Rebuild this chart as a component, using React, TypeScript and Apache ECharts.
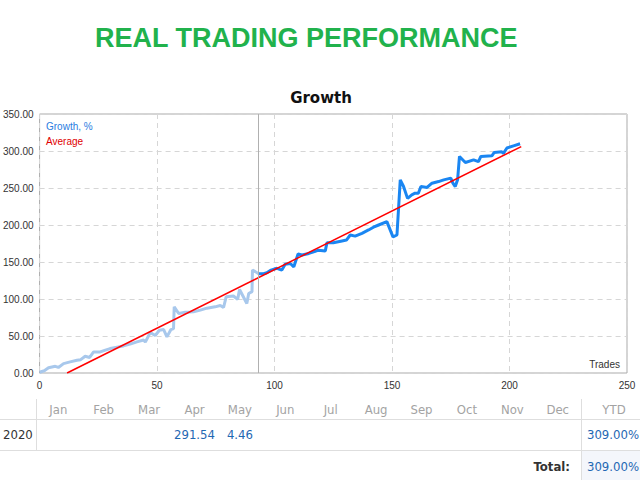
import React, { useEffect, useRef } from "react";
import * as echarts from "echarts";

const historyTrades = [0, 2, 3.8, 6.7, 8, 10.2, 13, 15.9, 17.5, 19.4, 21.3, 23, 25.8, 28, 30, 33, 35.7, 38.5, 41.4, 44.3, 45, 47.1, 49.2, 51, 52.8, 54.2, 55.9, 57, 57.3, 59.2, 62, 65.5, 68.4, 71.2, 74.7, 76.9, 78.3, 79.4, 82.5, 84.3, 85.1, 88.2, 89, 90.4, 90.6, 91.8, 93.2];
const historyGrowth = [1, 3, 7, 9, 7.5, 12.7, 15, 17.2, 18, 22.6, 21, 28.5, 28.5, 31, 33, 35, 36.6, 39, 42, 44.5, 41.7, 54.7, 50.6, 57.8, 58.7, 48.8, 58.7, 60, 89.4, 80.4, 82, 82.6, 85, 87.6, 89.4, 91.2, 88.5, 103, 104, 99.5, 112.9, 94, 107.5, 110, 139, 137, 134];

const currentTrades = [93.2, 95, 96.7, 98.5, 101, 103.1, 104.5, 106.7, 108.2, 110, 111.7, 114.6, 117, 118.7, 121.6, 122.3, 125, 128.7, 130.6, 132.2, 134.3, 137.2, 140, 142.1, 144.3, 147.8, 150.4, 152.1, 153.5, 154.9, 156.6, 158.4, 159.8, 161.2, 162.3, 164.9, 167, 169.8, 172, 175, 175.9, 176.9, 177.9, 178.7, 181.2, 184.7, 186.8, 187.8, 192.5, 193.5, 196.7, 197.4, 198.9, 201.7, 204.5];
const currentGrowth = [134, 134, 135.5, 139, 141.5, 139, 147, 148, 143.5, 160.7, 159.5, 161.6, 164, 166, 165, 176, 176, 178.4, 179.6, 186.5, 185, 188.8, 193.3, 197, 200, 204.5, 184, 186.5, 261, 252, 236, 240.8, 243, 243, 252, 250.7, 256.5, 258.7, 261, 263.3, 256.5, 252, 261, 292.6, 284.5, 288, 285.6, 292.6, 293.5, 298, 299, 296.8, 304, 307, 309.8];

const averageTrades = [11.7, 205];
const averageGrowth = [0, 306];

const signalStartTrade = 93.2;

const xTicks = { min: 0, max: 250, interval: 50 };
const yTicks = { min: 0, max: 350, interval: 50 };

const months = ["Jan", "Feb", "Mar", "Apr", "May", "Jun", "Jul", "Aug", "Sep", "Oct", "Nov", "Dec"];
const monthValues: (string | null)[] = [null, null, null, "291.54", "4.46", null, null, null, null, null, null, null];
const yearLabel = "2020";
const ytdValue = "309.00%";
const totalValue = "309.00%";

const pairs = (xs: number[], ys: number[]) => xs.map((x, i) => [x, ys[i]]);

const TABLE_FONT = "'Liberation Sans Narrow', 'DejaVu Sans Condensed', 'Liberation Sans', sans-serif";

function txt(text: string, x: number, y: number, fill: string, font: string, align: string = "left") {
  return {
    type: "text",
    x,
    y,
    silent: true,
    style: {
      text,
      fill,
      font,
      textAlign: align,
      textVerticalAlign: "middle",
      align,
      verticalAlign: "middle",
    },
  };
}

function hline(x1: number, y1: number, x2: number, y2: number, color = "#dedede") {
  return {
    type: "line",
    silent: true,
    shape: { x1, y1, x2, y2 },
    style: { stroke: color, lineWidth: 1 },
  };
}

export default function App() {
  const ref = useRef<HTMLDivElement>(null);

  useEffect(() => {
    if (!ref.current) return;
    const chart = echarts.init(ref.current, null, { renderer: "svg" });

    const monthX = (i: number) => 58.3 + 45.4 * i;
    const tableFont = `13px ${TABLE_FONT}`;

    const graphics: any[] = [
      txt("REAL TRADING PERFORMANCE", 95, 38, "#21b24c", "bold 27px 'Liberation Sans', Arial, sans-serif"),
      txt("Growth", 321, 98, "#111", "bold 15px 'DejaVu Sans', sans-serif", "center"),
      txt("Growth, %", 46, 126, "#2a7de1", "10px 'Liberation Sans', Arial, sans-serif"),
      txt("Average", 46, 141, "#e00000", "10px 'Liberation Sans', Arial, sans-serif"),
      txt("Trades", 620, 364, "#333", "10px 'Liberation Sans', Arial, sans-serif", "right"),
      // table
      {
        type: "rect",
        silent: true,
        shape: { x: 582, y: 451, width: 58, height: 29 },
        style: { fill: "#f4f6fb" },
      },
      hline(0, 419.5, 640, 419.5),
      hline(0, 450.5, 640, 450.5),
      hline(36.5, 399, 36.5, 450),
      hline(581.5, 399, 581.5, 480),
      ...months.map((m, i) => txt(m, monthX(i), 409, "#a3a3a3", tableFont, "center")),
      txt("YTD", 614, 409, "#a3a3a3", tableFont, "center"),
      txt(yearLabel, 3, 434, "#333", tableFont),
      ...monthValues
        .map((v, i) => (v ? txt(v, monthX(i), 434, "#1f68b3", tableFont, "center") : null))
        .filter(Boolean),
      txt(ytdValue, 639, 434, "#1f68b3", tableFont, "right"),
      txt("Total:", 570, 466, "#333", `bold 13px ${TABLE_FONT}`, "right"),
      txt(totalValue, 639, 466, "#1f68b3", tableFont, "right"),
    ];

    chart.setOption({
      animation: false,
      grid: {
        left: 39,
        right: 13,
        top: 114,
        bottom: 107,
        show: true,
        borderColor: "#aaaaaa",
        borderWidth: 1,
        backgroundColor: "transparent",
      },
      xAxis: {
        type: "value",
        min: xTicks.min,
        max: xTicks.max,
        interval: xTicks.interval,
        axisLine: { show: false },
        axisTick: { show: false },
        axisLabel: {
          color: "#333",
          fontSize: 10,
          fontFamily: "'Liberation Sans', Arial, sans-serif",
          margin: 7,
        },
        splitLine: { show: true, lineStyle: { color: "#d6d6d6", type: [5, 4], width: 1 } },
      },
      yAxis: {
        type: "value",
        min: yTicks.min,
        max: yTicks.max,
        interval: yTicks.interval,
        axisLine: { show: false },
        axisTick: { show: false },
        axisLabel: {
          color: "#333",
          fontSize: 10,
          fontFamily: "'Liberation Sans', Arial, sans-serif",
          margin: 6,
          formatter: (v: number) => v.toFixed(2),
        },
        splitLine: { show: true, lineStyle: { color: "#d6d6d6", type: [5, 4], width: 1 } },
      },
      series: [
        {
          name: "History",
          type: "line",
          data: pairs(historyTrades, historyGrowth),
          showSymbol: false,
          symbol: "none",
          lineStyle: { color: "#a8c8ec", width: 3 },
          z: 2,
          markLine: {
            silent: true,
            symbol: "none",
            label: { show: false },
            lineStyle: { color: "#b0b0b0", type: "solid", width: 1 },
            data: [{ xAxis: signalStartTrade }],
          },
        },
        {
          name: "Growth, %",
          type: "line",
          data: pairs(currentTrades, currentGrowth),
          showSymbol: false,
          symbol: "none",
          lineStyle: { color: "#1a86f2", width: 3 },
          z: 3,
        },
        {
          name: "Average",
          type: "line",
          data: pairs(averageTrades, averageGrowth),
          showSymbol: false,
          symbol: "none",
          lineStyle: { color: "#ff0000", width: 1.5 },
          z: 4,
        },
      ],
      graphic: graphics,
    });

    return () => chart.dispose();
  }, []);

  return (
    <div
      ref={ref}
      style={{ position: "fixed", left: 0, top: 0, width: 640, height: 480, background: "#fff" }}
    />
  );
}
